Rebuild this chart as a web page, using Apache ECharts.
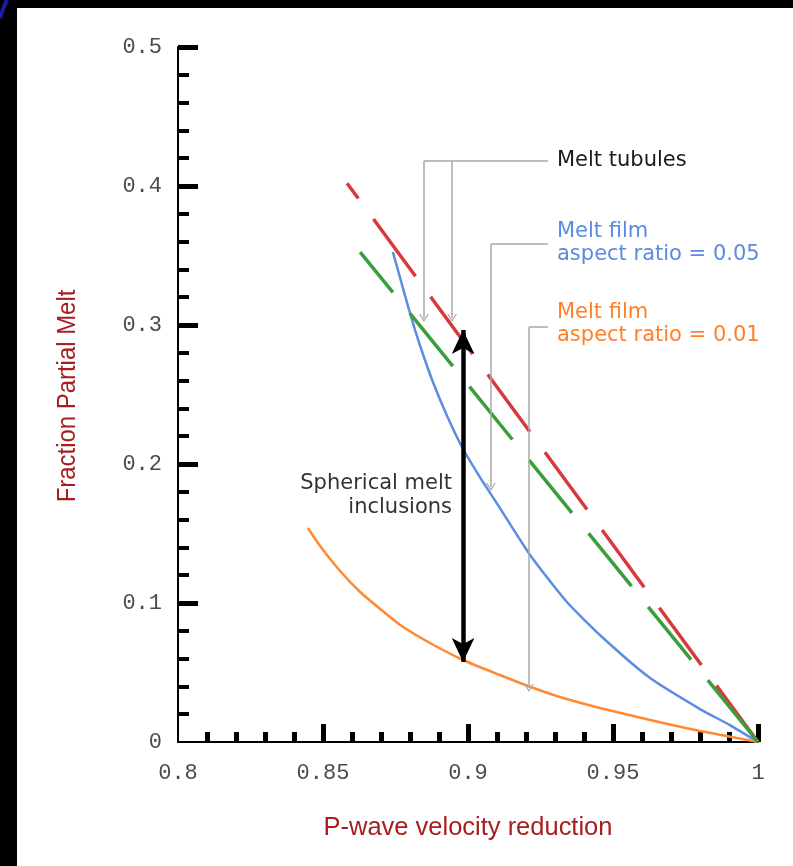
<!DOCTYPE html>
<html>
<head>
<meta charset="utf-8">
<script src="https://cdn.jsdelivr.net/npm/echarts@6/dist/echarts.min.js"></script>
<style>
  html, body { margin: 0; padding: 0; background: #000; }
  #chart { width: 793px; height: 866px; }
</style>
</head>
<body>
<div id="chart"></div>
<script>
// axis ticks
const xTickLabels = ['0.8', '0.85', '0.9', '0.95', '1']
const yTickLabels = ['0', '0.1', '0.2', '0.3', '0.4', '0.5']
// major tick marks (none drawn at the origin)
const xMajorTicks = [0.85, 0.9, 0.95, 1]
const yMajorTicks = [0.1, 0.2, 0.3, 0.4, 0.5]

// curves: [velocity reduction, fraction partial melt]
const tubuleUpper = [[0.8583, 0.402], [1.0, 0]]
const tubuleLower = [[0.8628, 0.3525], [1.0, 0]]
const film005 = [
  [0.8741, 0.3525], [0.8766, 0.3338], [0.880, 0.3086], [0.8834, 0.2856],
  [0.8879, 0.259], [0.8931, 0.2331], [0.8983, 0.2108], [0.9041, 0.1906],
  [0.911, 0.1683], [0.9214, 0.1345], [0.9341, 0.1007], [0.9466, 0.0748],
  [0.9628, 0.046], [0.98, 0.0237], [0.9903, 0.0122], [1.0, 0]
]
const film001 = [
  [0.8448, 0.154], [0.849, 0.141], [0.8559, 0.123], [0.8628, 0.1079],
  [0.8697, 0.0957], [0.8766, 0.0842], [0.8869, 0.0712], [0.8983, 0.059],
  [0.911, 0.0482], [0.9207, 0.0403], [0.9317, 0.0324], [0.9455, 0.0245],
  [0.9628, 0.0158], [0.98, 0.0079], [1.0, 0]
]

// annotation leaders, data units
const tubuleLeader = { top: 0.418, left: 0.8848, right: 0.9276, drops: [0.8848, 0.8945], tip: 0.305 }
const film005Leader = { top: 0.3583, left: 0.9079, right: 0.9276, tip: 0.1835 }
const film001Leader = { top: 0.2986, left: 0.921, right: 0.9276, tip: 0.0388 }
const sphericalRange = { x: 0.8983, low: 0.0576, high: 0.2964 }

// long-dash patterns, as drawn from the top end of each line
const upperDash = [19, 25.5, 71, 25.5, 71, 25.5, 71, 25.5, 71, 25.5, 71, 25.5, 71, 25.5, 80, 40]
const lowerDash = [52, 27, 68, 26.5, 68, 26.5, 68, 26.5, 68, 26.5, 68, 26.5, 90, 40]

const chevron = 'path://M0,10 L5,0 L10,10 L8.6,10 L5,2.8 L1.4,10 Z'
const gray = '#a8a8a8'

function seg(a, b, endSymbol) {
  return [
    { coord: a, symbol: 'none' },
    { coord: b, symbol: endSymbol || 'none' }
  ]
}

const leaderLines = [
  seg([tubuleLeader.left, tubuleLeader.top], [tubuleLeader.right, tubuleLeader.top]),
  ...tubuleLeader.drops.map((x) => seg([x, tubuleLeader.top], [x, tubuleLeader.tip], chevron)),
  seg([film005Leader.left, film005Leader.top], [film005Leader.right, film005Leader.top]),
  seg([film005Leader.left, film005Leader.top], [film005Leader.left, film005Leader.tip], chevron),
  seg([film001Leader.left, film001Leader.top], [film001Leader.right, film001Leader.top]),
  seg([film001Leader.left, film001Leader.top], [film001Leader.left, film001Leader.tip], chevron)
]

const chart = echarts.init(document.getElementById('chart'))

const tickFont = { fontFamily: 'Liberation Mono', fontSize: 22, color: '#4a4a4a' }
const noteFont = '21px "DejaVu Sans"'
const nameFont = '26px "Liberation Sans"'
const nameColor = '#a61e1e'

chart.setOption({
  animation: false,
  backgroundColor: '#ffffff',
  grid: { left: 178, right: 35, top: 47, bottom: 124 },
  xAxis: {
    type: 'value',
    min: 0.8,
    max: 1,
    interval: 0.05,
    splitLine: { show: false },
    axisLine: { lineStyle: { color: '#000', width: 2 } },
    axisTick: { inside: true, length: 18, customValues: xMajorTicks, lineStyle: { color: '#000', width: 5 } },
    minorTick: { show: true, splitNumber: 5, length: 10, lineStyle: { color: '#000', width: 5 } },
    axisLabel: {
      ...tickFont,
      margin: 20,
      formatter: (v) => xTickLabels[Math.round((v - 0.8) / 0.05)]
    }
  },
  yAxis: {
    type: 'value',
    min: 0,
    max: 0.5,
    interval: 0.1,
    splitLine: { show: false },
    axisLine: { show: true, lineStyle: { color: '#000', width: 2 } },
    axisTick: { show: true, inside: true, length: 20, customValues: yMajorTicks, lineStyle: { color: '#000', width: 5 } },
    minorTick: { show: true, splitNumber: 5, length: 11, lineStyle: { color: '#000', width: 4 } },
    axisLabel: {
      ...tickFont,
      margin: 16,
      formatter: (v) => yTickLabels[Math.round(v / 0.1)]
    }
  },
  series: [
    {
      name: 'Melt tubules upper',
      type: 'line',
      data: tubuleUpper,
      symbol: 'none',
      lineStyle: { color: '#d83a3c', width: 3.5, type: upperDash },
      z: 3
    },
    {
      name: 'Melt tubules lower',
      type: 'line',
      data: tubuleLower,
      symbol: 'none',
      lineStyle: { color: '#3a9e3c', width: 3.5, type: lowerDash },
      z: 3
    },
    {
      name: 'Melt film 0.05',
      type: 'line',
      data: film005,
      smooth: 0.2,
      symbol: 'none',
      lineStyle: { color: '#5b8de2', width: 2.5 },
      z: 2
    },
    {
      name: 'Melt film 0.01',
      type: 'line',
      data: film001,
      smooth: 0.2,
      symbol: 'none',
      lineStyle: { color: '#ff8a33', width: 2.5 },
      z: 2
    },
    {
      name: 'leaders',
      type: 'line',
      data: [],
      markLine: {
        silent: true,
        animation: false,
        symbolSize: [10, 8],
        label: { show: false },
        lineStyle: { color: gray, width: 1.5, type: 'solid' },
        itemStyle: { color: gray },
        emphasis: { disabled: true },
        data: leaderLines
      }
    },
    {
      name: 'spherical',
      type: 'line',
      data: [],
      markLine: {
        silent: true,
        animation: false,
        symbol: ['arrow', 'arrow'],
        symbolSize: [17, 24],
        label: { show: false },
        lineStyle: { color: '#000', width: 4.5, type: 'solid' },
        itemStyle: { color: '#000' },
        emphasis: { disabled: true },
        data: [[
          { coord: [sphericalRange.x, sphericalRange.low] },
          { coord: [sphericalRange.x, sphericalRange.high] }
        ]]
      }
    }
  ],
  graphic: [
    { type: 'rect', left: 0, top: 0, shape: { width: 17, height: 866 }, style: { fill: '#000' }, silent: true },
    { type: 'rect', left: 0, top: 0, shape: { width: 793, height: 8 }, style: { fill: '#000' }, silent: true },
    {
      type: 'polyline', silent: true,
      shape: { points: [[0, 18], [3, 9], [7, 0]] },
      style: { stroke: '#1a1aa8', lineWidth: 4, fill: null }
    },
    {
      type: 'text', x: 468, y: 828, silent: true, scaleX: 0.98,
      style: { text: 'P-wave velocity reduction', font: nameFont, fill: nameColor, align: 'center', verticalAlign: 'middle' }
    },
    {
      type: 'text', x: 68, y: 396, silent: true, rotation: Math.PI / 2, scaleX: 0.92,
      style: { text: 'Fraction Partial Melt', font: nameFont, fill: nameColor, align: 'center', verticalAlign: 'middle' }
    },
    {
      type: 'text', x: 557, y: 161, silent: true,
      style: { text: 'Melt tubules', font: noteFont, fill: '#1a1a1a', verticalAlign: 'middle' }
    },
    {
      type: 'text', x: 557, y: 243, silent: true,
      style: { text: 'Melt film\naspect ratio = 0.05', font: noteFont, fill: '#5b8be0', lineHeight: 23, verticalAlign: 'middle' }
    },
    {
      type: 'text', x: 557, y: 324, silent: true,
      style: { text: 'Melt film\naspect ratio = 0.01', font: noteFont, fill: '#ff7f2a', lineHeight: 23, verticalAlign: 'middle' }
    },
    {
      type: 'text', x: 452, y: 496, silent: true,
      style: { text: 'Spherical melt\ninclusions', font: noteFont, fill: '#333', align: 'right', verticalAlign: 'middle', lineHeight: 24 }
    }
  ]
})
</script>
</body>
</html>
